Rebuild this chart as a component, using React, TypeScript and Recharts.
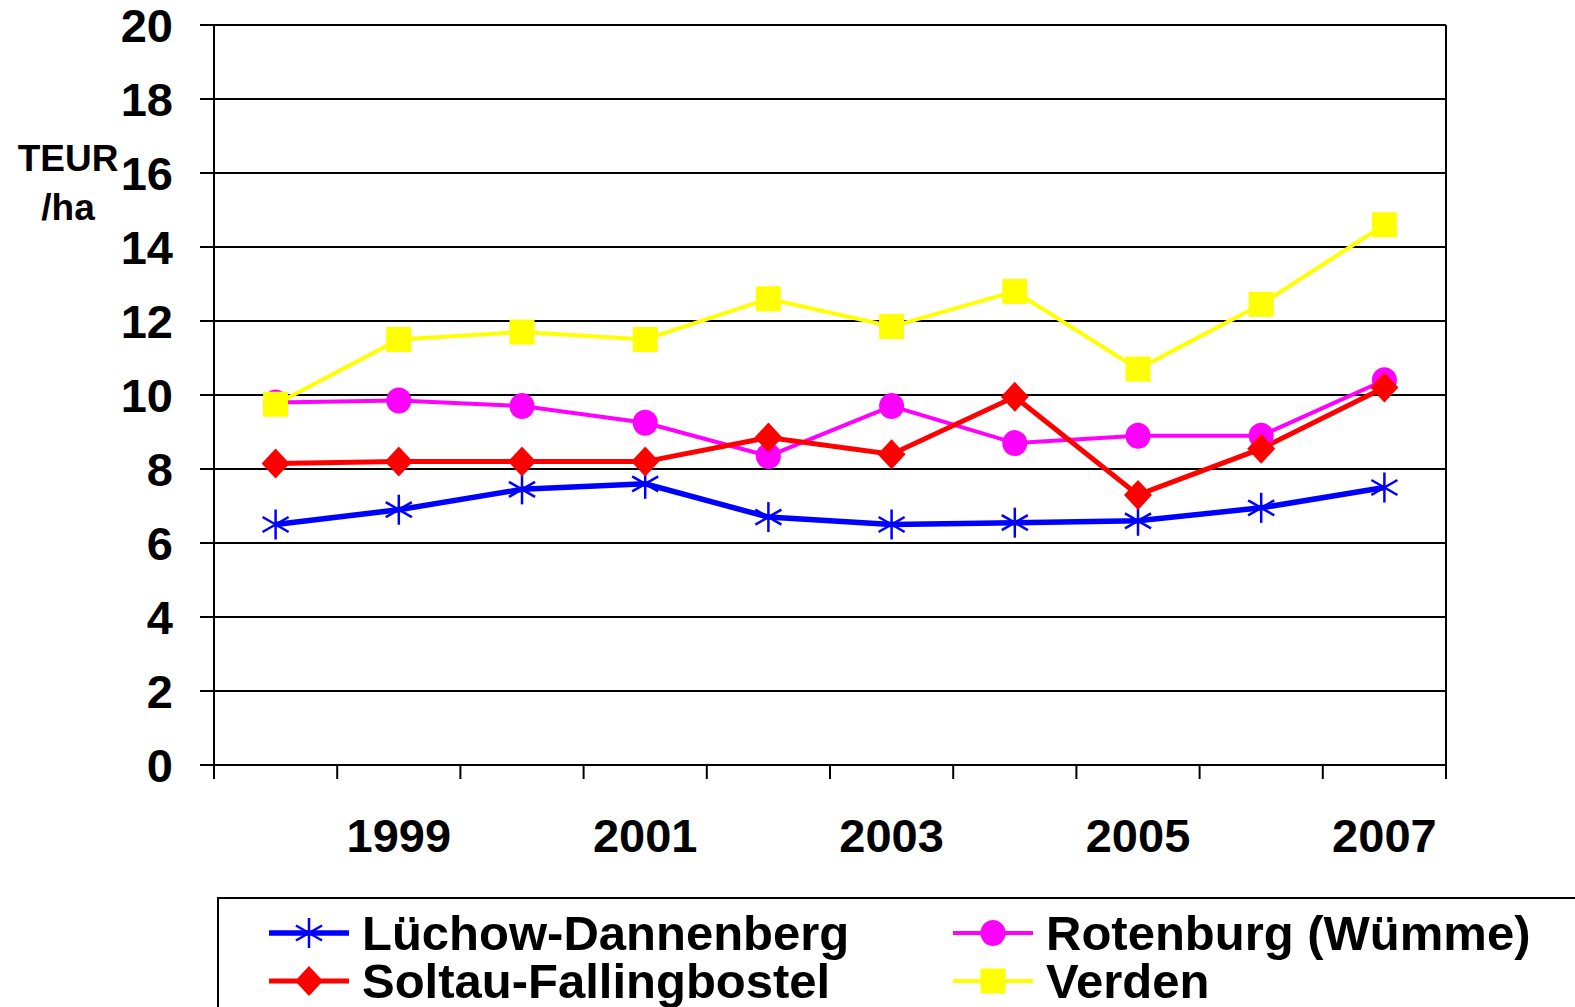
import {
  LineChart,
  Line,
  XAxis,
  YAxis,
  CartesianGrid,
  ReferenceLine,
  Legend,
} from "recharts";

const years = [1998, 1999, 2000, 2001, 2002, 2003, 2004, 2005, 2006, 2007];
const luechow = [6.5, 6.9, 7.45, 7.6, 6.7, 6.5, 6.55, 6.6, 6.95, 7.5];
const rotenburg = [9.8, 9.85, 9.7, 9.25, 8.35, 9.7, 8.7, 8.9, 8.9, 10.4];
const soltau = [8.15, 8.2, 8.2, 8.2, 8.85, 8.4, 9.95, 7.3, 8.55, 10.2];
const verden = [9.75, 11.5, 11.7, 11.5, 12.6, 11.85, 12.8, 10.7, 12.45, 14.6];
const yTicks = [0, 2, 4, 6, 8, 10, 12, 14, 16, 18, 20];
const labelYears = [1999, 2001, 2003, 2005, 2007];

const FONT = "'Liberation Sans', Arial, sans-serif";

const series = [
  { key: "luechow", name: "Lüchow-Dannenberg", color: "#0000ff", width: 5.5, shape: "star" },
  { key: "rotenburg", name: "Rotenburg (Wümme)", color: "#ff00ff", width: 4, shape: "circle" },
  { key: "soltau", name: "Soltau-Fallingbostel", color: "#ff0000", width: 5, shape: "diamond" },
  { key: "verden", name: "Verden", color: "#ffff00", width: 4, shape: "square" },
];

// x is the centre of each year's band (Excel-style ticks between categories)
const data = years.map((y, i) => ({
  x: i + 0.5,
  year: y,
  luechow: luechow[i],
  rotenburg: rotenburg[i],
  soltau: soltau[i],
  verden: verden[i],
}));

function Marker({ shape, color, cx, cy }: { shape: string; color: string; cx: number; cy: number }) {
  if (cx == null || cy == null) return null;
  if (shape === "star") {
    const r = 15;
    const d = r * 0.87;
    return (
      <g stroke={color} strokeWidth={2.5}>
        <line x1={cx} y1={cy - r} x2={cx} y2={cy + r} />
        <line x1={cx - d} y1={cy - r * 0.5} x2={cx + d} y2={cy + r * 0.5} />
        <line x1={cx - d} y1={cy + r * 0.5} x2={cx + d} y2={cy - r * 0.5} />
      </g>
    );
  }
  if (shape === "circle") {
    return <ellipse cx={cx} cy={cy} rx={12.5} ry={13} fill={color} />;
  }
  if (shape === "diamond") {
    return (
      <polygon
        points={`${cx},${cy - 15} ${cx + 14},${cy} ${cx},${cy + 15} ${cx - 14},${cy}`}
        fill={color}
      />
    );
  }
  return <rect x={cx - 12.5} y={cy - 12.5} width={25} height={25} fill={color} />;
}

function YearTick(props: any) {
  const { x, y, payload } = props;
  return (
    <text x={x} y={y + 73} textAnchor="middle" fill="#000" fontSize={47} fontWeight="bold" fontFamily={FONT}>
      {years[Math.floor(payload.value)]}
    </text>
  );
}

function UnitLabel() {
  return (
    <text fill="#000" fontSize={37} fontWeight="bold" fontFamily={FONT} textAnchor="middle">
      <tspan x={68} y={171}>TEUR</tspan>
      <tspan x={68} y={220}>/ha</tspan>
    </text>
  );
}

function LegendBox() {
  const item = (s: (typeof series)[number], left: number, top: number) => (
    <div key={s.key} style={{ position: "absolute", left, top, height: 46, display: "flex", alignItems: "center" }}>
      <svg width={80} height={40} style={{ display: "block" }}>
        <line x1={0} y1={20} x2={80} y2={20} stroke={s.color} strokeWidth={s.width} />
        <Marker shape={s.shape} color={s.color} cx={40} cy={20} />
      </svg>
      <span
        style={{
          marginLeft: 13,
          fontSize: 49,
          lineHeight: "46px",
          fontWeight: "bold",
          fontFamily: FONT,
          color: "#000",
          whiteSpace: "nowrap",
        }}
      >
        {s.name}
      </span>
    </div>
  );
  return (
    <div style={{ position: "relative", width: 1500, height: 200, border: "2px solid #000", boxSizing: "border-box", background: "#fff" }}>
      {item(series[0], 50, 11)}
      {item(series[1], 734, 11)}
      {item(series[2], 50, 59)}
      {item(series[3], 734, 59)}
    </div>
  );
}

export default function App() {
  return (
    <div style={{ position: "absolute", left: 0, top: 0, width: 1575, height: 1007, overflow: "hidden", background: "#fff" }}>
      <LineChart width={1575} height={1007} data={data} margin={{ top: 25, right: 129, bottom: 148, left: 0 }}>
        <CartesianGrid xAxisId="a" vertical={false} stroke="#000" strokeWidth={2} />
        <XAxis
          xAxisId="a"
          dataKey="x"
          type="number"
          domain={[0, 10]}
          allowDataOverflow
          ticks={[0, 1, 2, 3, 4, 5, 6, 7, 8, 9, 10]}
          tickFormatter={() => ""}
          tickSize={14}
          height={14}
          axisLine={{ stroke: "#000", strokeWidth: 2 }}
          tickLine={{ stroke: "#000", strokeWidth: 2 }}
        />
        <XAxis
          xAxisId="b"
          dataKey="x"
          type="number"
          domain={[0, 10]}
          allowDataOverflow
          ticks={labelYears.map((y) => years.indexOf(y) + 0.5)}
          tick={<YearTick />}
          tickSize={0}
          tickMargin={0}
          height={80}
          axisLine={false}
          tickLine={false}
        />
        <YAxis
          domain={[0, 20]}
          ticks={yTicks}
          interval={0}
          width={214}
          tickSize={14}
          tickMargin={27}
          axisLine={{ stroke: "#000", strokeWidth: 2 }}
          tickLine={{ stroke: "#000", strokeWidth: 2 }}
          tick={{ fill: "#000", fontSize: 47, fontWeight: "bold", fontFamily: FONT }}
          label={<UnitLabel />}
        />
        <ReferenceLine xAxisId="a" x={10} stroke="#000" strokeWidth={2} />
        {series.map((s) => (
          <Line
            key={s.key}
            xAxisId="a"
            dataKey={s.key}
            name={s.name}
            stroke={s.color}
            strokeWidth={s.width}
            isAnimationActive={false}
            dot={(p: any) => <Marker key={p.index} shape={s.shape} color={s.color} cx={p.cx} cy={p.cy} />}
            activeDot={false}
          />
        ))}
        <Legend
          layout="horizontal"
          verticalAlign="middle"
          content={() => <LegendBox />}
          wrapperStyle={{ left: 217, top: 897, width: 1500, height: 200 }}
        />
      </LineChart>
    </div>
  );
}
